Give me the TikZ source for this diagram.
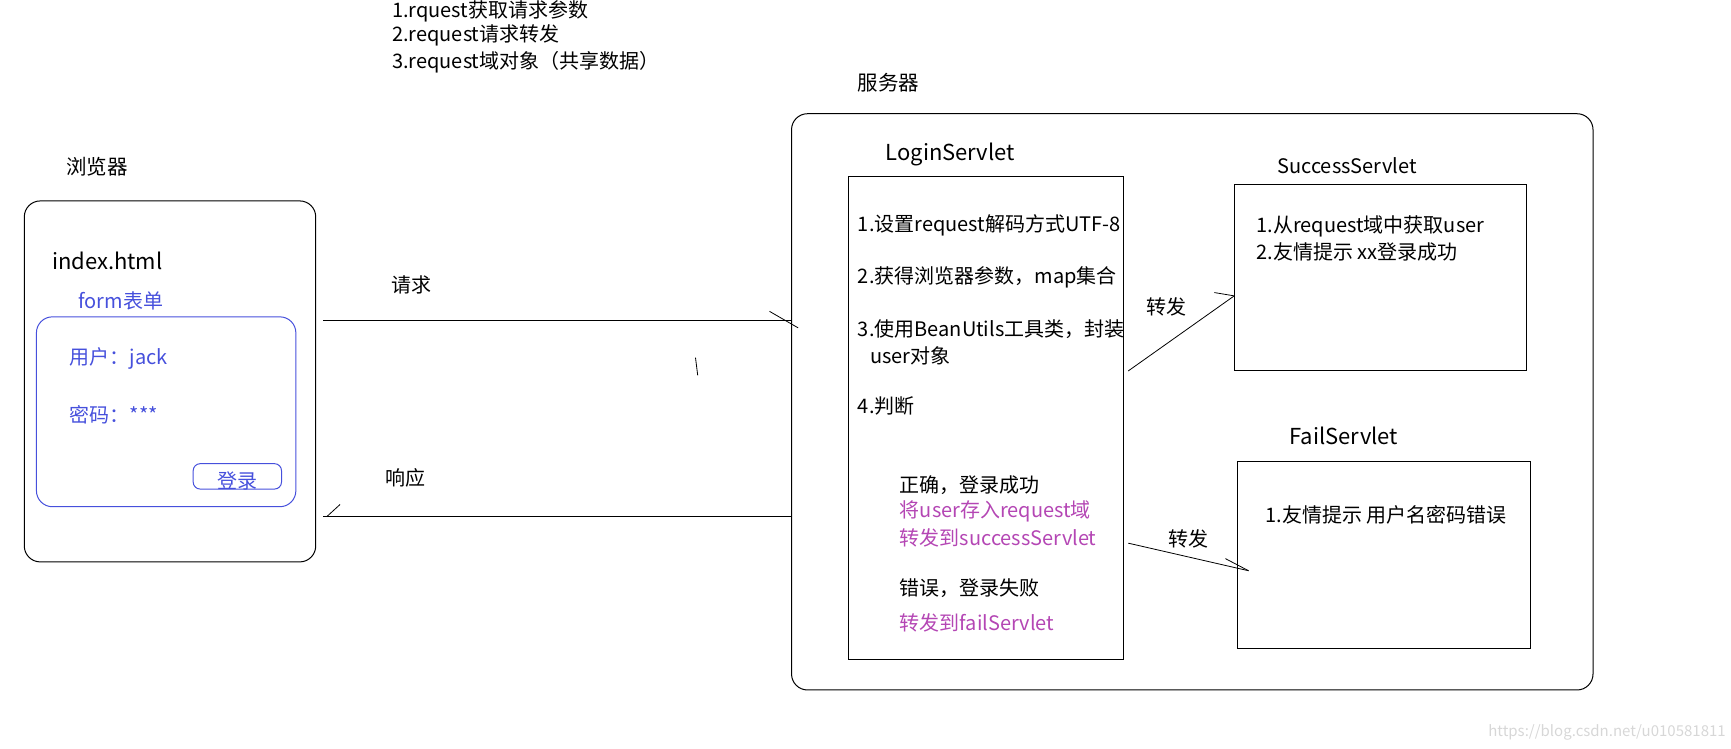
\documentclass[tikz,border=0pt]{standalone}
\usepackage{fontspec}
\setmainfont{Noto Sans CJK SC}
\usetikzlibrary{fit}
\definecolor{formblue}{RGB}{70,80,220}
\definecolor{fwdpink}{RGB}{180,70,180}
\definecolor{wmgray}{RGB}{215,215,215}
\begin{document}
\begin{tikzpicture}[x=1.104pt,y=-1.104pt,
  txt/.style={anchor=west,inner sep=0pt,font=\fontsize{20}{23}\selectfont},
  ttl/.style={anchor=west,inner sep=0pt,font=\fontsize{20.5}{24}\selectfont},
  big/.style={anchor=west,inner sep=0pt,font=\fontsize{22}{25}\selectfont},
  box/.style={draw,line width=1pt,inner sep=0pt},
  rbox/.style={box,rounded corners=16pt},
  wire/.style={line width=1pt},
  barb/.style={line width=0.8pt}]
\useasboundingbox (0,0) rectangle (1568,678);
% top notes
\node[txt] (l1) at (355,10) {1.rquest获取请求参数};
\node[txt] (l2) at (355,32) {2.request请求转发};
\node[txt] (l3) at (355,56) {3.request域对象（共享数据）};
% browser
\node[ttl] (brT) at (60,151) {浏览器};
\node[rbox, fit={(22,182)(286,509)}] (browser) {};
\node[big] (idx) at (47,236) {index.html};
\node[txt, text=formblue] (formT) at (71,273) {form表单};
\node[rbox, draw=formblue, fit={(33,287)(268,459)}] (form) {};
\node[txt, text=formblue] (user) at (63,325) {用户：jack};
\node[txt, text=formblue] (pwd) at (63,376) {密码：***};
\node[box, draw=formblue, rounded corners=7pt, fit={(175,420)(255,443)}] (btn) {};
\node[txt, text=formblue, anchor=center] (btnT) at (215,436) {登录};
% server
\node[ttl] (svT) at (777,75) {服务器};
\node[rbox, fit={(717,103)(1443,625)}] (server) {};
\node[big] (loginT) at (802,140) {LoginServlet};
\node[box, fit={(769,160)(1018,597)}] (login) {};
\node[txt] (s1) at (777,204) {1.设置request解码方式UTF-8};
\node[txt] (s2) at (777,251) {2.获得浏览器参数，map集合};
\node[txt] (s3) at (777,298) {3.使用BeanUtils工具类，封装};
\node[txt] (s3b) at (788,322) {user对象};
\node[txt] (s4) at (777,368) {4.判断};
\node[txt] (ok) at (815,439) {正确，登录成功};
\node[txt, text=fwdpink] (ok1) at (815,463) {将user存入request域};
\node[txt, text=fwdpink] (ok2) at (815,487) {转发到successServlet};
\node[txt] (err) at (815,533) {错误，登录失败};
\node[txt, text=fwdpink] (err1) at (815,564) {转发到failServlet};
\node[txt] (succT) at (1157,150) {SuccessServlet};
\node[box, fit={(1118,167)(1383,336)}] (succ) {};
\node[txt] (u1) at (1138,205) {1.从request域中获取user};
\node[txt] (u2) at (1138,228) {2.友情提示 xx登录成功};
\node[big] (failT) at (1168,395) {FailServlet};
\node[box, fit={(1121,418)(1386,587)}] (fail) {};
\node[txt] (f1) at (1146,466) {1.友情提示 用户名密码错误};
% request / response
\node[txt] (req) at (354,258) {请求};
\node[txt] (resp) at (349,433) {响应};
\coordinate (reqS) at (293,290);
\draw[wire] (reqS) -- (reqS -| server.west);
\draw[barb] (697,282) -- (723,297);
\draw[barb] (630,324) -- (632,340);
\coordinate (respE) at (293,468);
\draw[wire] (respE -| server.west) -- (respE);
\draw[barb] (296,468) -- (308,457);
% forwards
\node[txt] (fw1T) at (1038,278) {转发};
\coordinate (fw1s) at (1022,336);
\coordinate (fw1e) at (1118,268);
\draw[barb] (fw1s) -- (fw1e);
\draw[barb] (1100,265) -- (fw1e);
\node[txt] (fw2T) at (1058,488) {转发};
\coordinate (fw2s) at (1022,492);
\coordinate (fw2e) at (1131,517);
\draw[barb] (fw2s) -- (fw2e);
\draw[barb] (1110,506) -- (fw2e);
% watermark
\node[anchor=west, inner sep=0pt, text=wmgray, font=\fontsize{15}{18}\selectfont] (wm) at (1348,663) {https://blog.csdn.net/u010581811};
\end{tikzpicture}
\end{document}
